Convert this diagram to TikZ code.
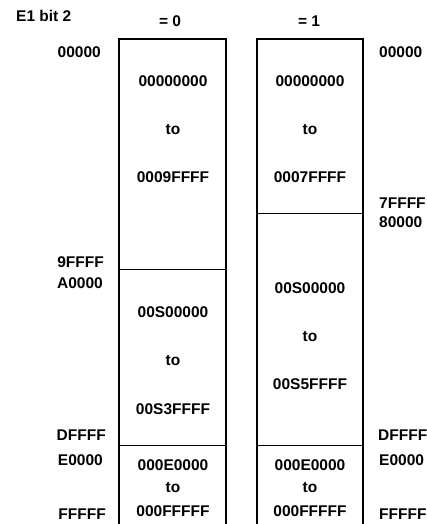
\documentclass[tikz,border=0pt]{standalone}
\usepackage{fontspec}
\setmainfont{Liberation Sans}
\begin{document}
\begin{tikzpicture}[x=1pt,y=-1pt,
  lbl/.style={font=\bfseries\fontsize{15.5}{15.5}\selectfont, inner sep=0pt},
  llbl/.style={lbl, anchor=east},
  rlbl/.style={lbl, anchor=west},
  boxline/.style={line width=1.3pt}]
\useasboundingbox (0,0) rectangle (427,524);
% boxes
\draw[boxline] (119,524) -- (119,39) -- (226,39) -- (226,524);
\draw[boxline] (257,524) -- (257,39) -- (363,39) -- (363,524);
\draw[line width=1pt] (119,269) -- (226,269);
\draw[line width=1pt] (119,445) -- (226,445);
\draw[line width=1pt] (257,213) -- (363,213);
\draw[line width=1pt] (257,445) -- (363,445);
% headings
\node[lbl, anchor=west] (e1) at (16,16) {E1 bit 2};
\node[lbl] (h0) at (170,21) {= 0};
\node[lbl] (h1) at (309,21) {= 1};
% left addresses
\node[llbl] (l1) at (101,52) {00000};
\node[llbl] (l2) at (104,262) {9FFFF};
\node[llbl] (l3) at (103,283) {A0000};
\node[llbl] (l4) at (106,435) {DFFFF};
\node[llbl] (l5) at (103,460) {E0000};
\node[llbl] (l6) at (106,514) {FFFFF};
% right addresses
\node[rlbl] (r1) at (379,52) {00000};
\node[rlbl] (r2) at (379,203) {7FFFF};
\node[rlbl] (r3) at (379,222) {80000};
\node[rlbl] (r4) at (378,435) {DFFFF};
\node[rlbl] (r5) at (379,460) {E0000};
\node[rlbl] (r6) at (379,514) {FFFFF};
% left box texts
\node[lbl] (a1) at (173,81) {00000000};
\node[lbl] (a2) at (173,130) {to};
\node[lbl] (a3) at (173,177) {0009FFFF};
\node[lbl] (b1) at (173,312) {00S00000};
\node[lbl] (b2) at (173,361) {to};
\node[lbl] (b3) at (173,409) {00S3FFFF};
\node[lbl] (c1) at (173,465) {000E0000};
\node[lbl] (c2) at (173,488) {to};
\node[lbl] (c3) at (173,511) {000FFFFF};
% right box texts
\node[lbl] (d1) at (310,81) {00000000};
\node[lbl] (d2) at (310,130) {to};
\node[lbl] (d3) at (310,177) {0007FFFF};
\node[lbl] (e1b) at (310,288) {00S00000};
\node[lbl] (e2) at (310,337) {to};
\node[lbl] (e3) at (310,384) {00S5FFFF};
\node[lbl] (f1) at (310,465) {000E0000};
\node[lbl] (f2) at (310,488) {to};
\node[lbl] (f3) at (310,511) {000FFFFF};
\end{tikzpicture}
\end{document}
